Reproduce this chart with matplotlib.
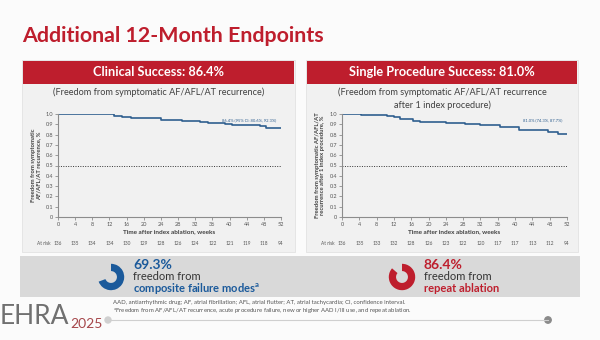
import matplotlib.pyplot as plt
import matplotlib.transforms as mtransforms
from matplotlib.patches import Rectangle, Circle

plt.rcParams["font.family"] = ["Lato", "DejaVu Sans"]

# Kaplan-Meier step data (weeks, survival)
clin_weeks = [0, 13, 15, 17, 24, 29, 33, 35, 39, 40.5, 47, 48.5, 52]
clin_surv = [1.0, 0.985, 0.975, 0.965, 0.945, 0.93, 0.922, 0.915, 0.905, 0.892, 0.88, 0.868, 0.864]
clin_ci = "86.4% (95% CI: 80.6%, 92.3%)"
clin_at_risk = [136, 135, 134, 134, 130, 129, 128, 126, 124, 122, 121, 119, 118, 94]

single_weeks = [0, 4.5, 10.5, 12, 13.5, 16.5, 18, 21, 24, 28.5, 32, 36.5, 41, 47.5, 50, 52]
single_surv = [1.0, 0.995, 0.985, 0.97, 0.955, 0.936, 0.927, 0.92, 0.91, 0.90, 0.89, 0.878, 0.845, 0.83, 0.81, 0.81]
single_ci = "81.0% (74.3%, 87.7%)"
single_at_risk = [136, 135, 133, 132, 128, 126, 123, 122, 120, 117, 117, 113, 112, 94]

week_ticks = list(range(0, 53, 4))
y_ticks = [0, 0.1, 0.2, 0.3, 0.4, 0.5, 0.6, 0.7, 0.8, 0.9, 1.0]
y_tick_labels = ["0", "0.1", "0.2", "0.3", "0.4", "0.5", "0.6", "0.7", "0.8", "0.9", "1.0"]

composite_pct = 69.3
repeat_pct = 86.4

RED = "#BE1E2D"
BLUE = "#1B5A9B"
CURVE = "#2F5F8F"
PANEL = "#F1F1F1"
BAND = "#D9D9D9"
W, H = 600, 340

fig = plt.figure(figsize=(6, 3.4), dpi=100, facecolor="#FBFBFB")

# full-figure canvas in pixel coordinates (y down)
bg = fig.add_axes([0, 0, 1, 1])
bg.set_xlim(0, W)
bg.set_ylim(H, 0)
bg.axis("off")

bg.text(22, 36, "Additional 12-Month Endpoints", color=RED, fontsize=15.4,
        fontweight="bold", va="center", ha="left")

panels = [
    (22, 295, "Clinical Success: 86.4%",
     "(Freedom from symptomatic AF/AFL/AT recurrence)", 92.5),
    (306, 578, "Single Procedure Success: 81.0%",
     "(Freedom from symptomatic AF/AFL/AT recurrence\nafter 1 index procedure)", 98.5),
]
for x0, x1, head, sub, sub_y in panels:
    bg.add_patch(Rectangle((x0, 60), x1 - x0, 192, facecolor=PANEL,
                           edgecolor="#E2E2E2", lw=0.6))
    bg.add_patch(Rectangle((x0 + 1, 61), x1 - x0 - 2, 23, facecolor=RED, lw=0))
    bg.text((x0 + x1) / 2, 72.5, head, color="white", fontsize=9.2,
            fontweight="bold", ha="center", va="center")
    bg.text((x0 + x1) / 2, sub_y, sub, color="#404040", fontsize=6.6,
            ha="center", va="center", linespacing=1.4)

# bottom band with two donut summaries
bg.add_patch(Rectangle((20, 256), 560, 41, facecolor=BAND, lw=0))

bg.text(133, 265, "69.3%", color=BLUE, fontsize=10, fontweight="bold", va="center")
bg.text(133, 277, "freedom from", color="#333333", fontsize=8, va="center")
bg.text(133, 288.5, "composite failure modes$^{\\mathregular{a}}$", color=BLUE,
        fontsize=8, fontweight="bold", va="center")
bg.text(424, 265, "86.4%", color=RED, fontsize=10, fontweight="bold", va="center")
bg.text(424, 277, "freedom from", color="#333333", fontsize=8, va="center")
bg.text(424, 288.5, "repeat ablation", color=RED, fontsize=8,
        fontweight="bold", va="center")

for cx, pct, col in [(111, composite_pct, BLUE), (402, repeat_pct, RED)]:
    dax = fig.add_axes([(cx - 16.5) / W, 1 - (277 + 16.5) / H, 33 / W, 33 / H])
    dax.pie([pct, 100 - pct], colors=[col, "none"], startangle=90,
            counterclock=False, wedgeprops=dict(width=0.55, lw=0))
    dax.set_aspect("equal")
    dax.axis("off")

# footnotes
bg.text(113, 302.5, "AAD, antiarrhythmic drug; AF, atrial fibrillation; AFL, atrial flutter; "
        "AT, atrial tachycardia; CI, confidence interval.", color="#555555",
        fontsize=4.3, va="center")
bg.text(113, 311, "$^{\\mathregular{a}}$Freedom from AF/AFL/AT recurrence, acute procedure failure, "
        "new or higher AAD I/III use, and repeat ablation.", color="#555555",
        fontsize=4.3, va="center")

# logo and rule
bg.text(0, 317, "EHRA", color="#707070", fontsize=19, va="center", ha="left")
bg.text(70, 324, "2025", color="#A5464A", fontsize=10, va="center", ha="left")
bg.plot([110, 548], [320, 320], color="#CFCFCF", lw=0.8)
bg.add_patch(Circle((108, 320), 3, color="#D0D0D0"))
bg.add_patch(Circle((548, 320), 3.2, color="#8A8A8A"))


def km_axes(left_px, right_px, weeks, surv, ci_text, at_risk, ylabel):
    ax = fig.add_axes([left_px / W, 1 - 217 / H, (right_px - left_px) / W, 103 / H])
    ax.patch.set_alpha(0)
    ax.step(weeks, surv, where="post", color=CURVE, lw=1.2)
    ax.axhline(0.5, color="#333333", lw=0.7, ls=(0, (1, 1.5)))
    ax.set_xlim(0, 52)
    ax.set_ylim(0, 1.0)
    ax.set_xticks(week_ticks)
    ax.set_yticks(y_ticks)
    ax.set_yticklabels(y_tick_labels)
    for s in ["top", "right"]:
        ax.spines[s].set_visible(False)
    for s in ["left", "bottom"]:
        ax.spines[s].set_color("#8C8C8C")
        ax.spines[s].set_linewidth(0.8)
    ax.tick_params(colors="#8C8C8C", labelcolor="#555555", labelsize=4,
                   length=2, width=0.6, pad=1.5)
    ax.set_xlabel("Time after index ablation, weeks", fontsize=4.6,
                  fontweight="bold", color="#404040", labelpad=2)
    ax.set_ylabel(ylabel, fontsize=4.2, fontweight="bold", color="#404040",
                  labelpad=3, linespacing=1.2)
    ax.text(51, 0.935, ci_text, color=CURVE, fontsize=3, ha="right", va="center")
    trans = mtransforms.blended_transform_factory(ax.transData, ax.transAxes)
    for wk, n in zip(week_ticks, at_risk):
        ax.text(wk, -0.255, str(n), transform=trans, fontsize=3.4,
                color="#555555", ha="center", va="center")
    ax.text(-3.3, -0.255, "At risk", transform=trans, fontsize=3.4,
            color="#555555", ha="center", va="center")
    return ax


km_axes(58, 281, clin_weeks, clin_surv, clin_ci, clin_at_risk,
        "Freedom from symptomatic\nAF/AFL/AT recurrence, %")
km_axes(342, 567, single_weeks, single_surv, single_ci, single_at_risk,
        "Freedom from symptomatic AF/AFL/AT\nrecurrence after 1 index procedure, %")

fig.savefig("out.png", dpi=100, facecolor=fig.get_facecolor())
